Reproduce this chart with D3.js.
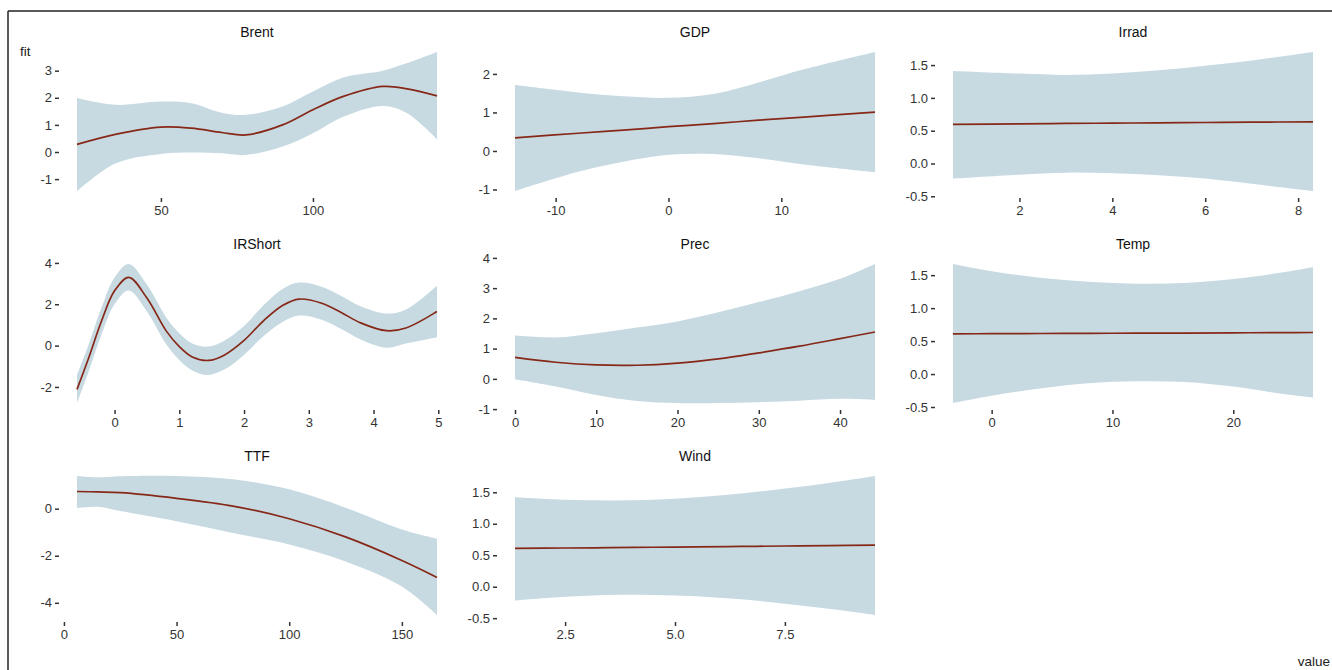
<!DOCTYPE html>
<html>
<head>
<meta charset="utf-8">
<script src="https://cdn.jsdelivr.net/npm/d3@7"></script>
<style>
  html, body { margin: 0; padding: 0; background: #fff; overflow: hidden; }
  svg { display: block; font-family: "Liberation Sans", Arial, sans-serif; }
  .tick text { fill: #333; font-size: 13px; }
  .tick line { stroke: #333; stroke-width: 1.5; }
</style>
</head>
<body>
<div id="chart"></div>
<script>
// Smooth term estimates (fit with lower/upper confidence band) per predictor

const panelNames = ['Brent', 'GDP', 'Irrad', 'IRShort', 'Prec', 'Temp', 'TTF', 'Wind'];

const brentX     = [22.4, 35, 50, 60, 70, 78, 90, 100, 110, 123, 131, 140.8];
const brentFit   = [0.28, 0.65, 0.92, 0.88, 0.72, 0.63, 1.0, 1.56, 2.05, 2.42, 2.33, 2.07];
const brentLower = [-1.44, -0.42, -0.07, -0.02, -0.05, -0.11, 0.2, 0.69, 1.3, 1.7, 1.43, 0.47];
const brentUpper = [1.99, 1.74, 1.86, 1.8, 1.45, 1.37, 1.68, 2.23, 2.75, 3.0, 3.28, 3.69];

const gdpX     = [-13.6, -8, -4, 0, 4, 8, 12, 18.3];
const gdpFit   = [0.34, 0.46, 0.54, 0.63, 0.71, 0.8, 0.88, 1.01];
const gdpLower = [-1.04, -0.54, -0.28, -0.1, -0.08, -0.19, -0.35, -0.55];
const gdpUpper = [1.71, 1.52, 1.42, 1.38, 1.48, 1.78, 2.12, 2.57];

const irradX     = [0.57, 2, 3, 4, 5, 6, 7, 8.32];
const irradFit   = [0.595, 0.605, 0.61, 0.615, 0.62, 0.625, 0.63, 0.635];
const irradLower = [-0.23, -0.17, -0.14, -0.15, -0.18, -0.23, -0.31, -0.42];
const irradUpper = [1.41, 1.37, 1.35, 1.37, 1.42, 1.49, 1.57, 1.7];

const irshortX     = [-0.58, -0.4, -0.2, 0, 0.22, 0.5, 0.8, 1.0, 1.2, 1.45, 1.7, 2.0, 2.3, 2.6, 2.85, 3.2, 3.5, 3.8, 4.2, 4.5, 4.98];
const irshortFit   = [-2.12, -0.6, 1.2, 2.65, 3.3, 2.3, 0.7, -0.05, -0.55, -0.72, -0.45, 0.25, 1.2, 1.95, 2.25, 2.05, 1.6, 1.1, 0.72, 0.85, 1.65];
const irshortLower = [-2.78, -1.25, 0.55, 2.0, 2.67, 1.65, 0.05, -0.7, -1.2, -1.42, -1.15, -0.45, 0.45, 1.15, 1.45, 1.25, 0.8, 0.3, -0.1, 0.1, 0.4];
const irshortUpper = [-1.42, 0.05, 1.85, 3.3, 3.95, 2.95, 1.35, 0.6, 0.1, -0.05, 0.25, 0.95, 1.95, 2.75, 3.05, 2.85, 2.4, 1.9, 1.55, 1.75, 2.9];

const precX     = [0, 5, 10, 15, 20, 25, 30, 35, 40, 44.3];
const precFit   = [0.71, 0.55, 0.46, 0.45, 0.52, 0.66, 0.86, 1.08, 1.33, 1.55];
const precLower = [-0.01, -0.25, -0.53, -0.73, -0.8, -0.8, -0.77, -0.72, -0.66, -0.7];
const precUpper = [1.43, 1.37, 1.51, 1.7, 1.9, 2.2, 2.54, 2.9, 3.31, 3.8];

const tempX     = [-3.2, 0, 4, 8, 12, 16, 20, 24, 26.6];
const tempFit   = [0.61, 0.612, 0.615, 0.617, 0.62, 0.622, 0.625, 0.628, 0.63];
const tempLower = [-0.44, -0.33, -0.22, -0.14, -0.11, -0.12, -0.19, -0.3, -0.36];
const tempUpper = [1.67, 1.56, 1.46, 1.4, 1.37, 1.38, 1.44, 1.54, 1.62];

const ttfX     = [5.8, 15, 25, 50, 75, 100, 125, 150, 165.6];
const ttfFit   = [0.73, 0.71, 0.68, 0.44, 0.11, -0.43, -1.2, -2.2, -2.92];
const ttfLower = [0.03, 0.08, -0.1, -0.53, -1.03, -1.52, -2.24, -3.31, -4.52];
const ttfUpper = [1.39, 1.33, 1.38, 1.39, 1.25, 0.82, 0.04, -0.88, -1.27];

const windX     = [1.36, 2.5, 3.5, 4.5, 5.5, 6.5, 7.5, 8.5, 9.55];
const windFit   = [0.61, 0.615, 0.62, 0.627, 0.633, 0.64, 0.647, 0.653, 0.66];
const windLower = [-0.22, -0.16, -0.13, -0.13, -0.15, -0.2, -0.27, -0.35, -0.45];
const windUpper = [1.42, 1.38, 1.37, 1.38, 1.42, 1.48, 1.56, 1.65, 1.76];

// Axis ticks
const xTicks = [[50, 100], [-10, 0, 10], [2, 4, 6, 8], [0, 1, 2, 3, 4, 5], [0, 10, 20, 30, 40], [0, 10, 20], [0, 50, 100, 150], [2.5, 5, 7.5]];
const yTicks = [[-1, 0, 1, 2, 3], [-1, 0, 1, 2], [-0.5, 0, 0.5, 1, 1.5], [-2, 0, 2, 4], [-1, 0, 1, 2, 3, 4], [-0.5, 0, 0.5, 1, 1.5], [-4, -2, 0], [-0.5, 0, 0.5, 1, 1.5]];
const xDecimals = [0, 0, 0, 0, 0, 0, 0, 1];
const yDecimals = [0, 0, 1, 0, 0, 1, 0, 1];

const seriesX = [brentX, gdpX, irradX, irshortX, precX, tempX, ttfX, windX];
const seriesFit = [brentFit, gdpFit, irradFit, irshortFit, precFit, tempFit, ttfFit, windFit];
const seriesLower = [brentLower, gdpLower, irradLower, irshortLower, precLower, tempLower, ttfLower, windLower];
const seriesUpper = [brentUpper, gdpUpper, irradUpper, irshortUpper, precUpper, tempUpper, ttfUpper, windUpper];

const W = 1332, H = 670;
const COL_LEFT = [59, 497, 935];
const ROW_TOP = [45, 257, 469];
const PANEL_W = 396, PANEL_H = 153;
const RIBBON = '#c7dae2';
const LINE = '#862817';

const locale = d3.formatLocale({ decimal: '.', thousands: ',', grouping: [3], currency: ['', ''], minus: '-' });
const curve = d3.curveCatmullRom.alpha(0.5);

const svg = d3.select('#chart').append('svg')
  .attr('width', W)
  .attr('height', H);

// frame edges (top and left only)
svg.append('line').attr('x1', 8).attr('x2', W).attr('y1', 11).attr('y2', 11)
  .attr('stroke', '#222').attr('stroke-width', 1.5);
svg.append('line').attr('x1', 8).attr('x2', 8).attr('y1', 11).attr('y2', H)
  .attr('stroke', '#222').attr('stroke-width', 1.5);

function expand(ext) {
  const pad = (ext[1] - ext[0]) * 0.05;
  return [ext[0] - pad, ext[1] + pad];
}

panelNames.forEach((name, i) => {
  const col = i % 3, row = Math.floor(i / 3);
  const left = COL_LEFT[col], top = ROW_TOP[row];
  const xs = seriesX[i];
  const data = xs.map((x, j) => ({ x, fit: seriesFit[i][j], lo: seriesLower[i][j], hi: seriesUpper[i][j] }));

  const x = d3.scaleLinear()
    .domain(expand(d3.extent(xs)))
    .range([0, PANEL_W]);
  const y = d3.scaleLinear()
    .domain(expand([d3.min(data, d => d.lo), d3.max(data, d => d.hi)]))
    .range([PANEL_H, 0]);

  const g = svg.append('g').attr('transform', `translate(${left},${top})`);

  g.append('path')
    .datum(data)
    .attr('fill', RIBBON)
    .attr('d', d3.area().curve(curve)
      .x(d => x(d.x)).y0(d => y(d.lo)).y1(d => y(d.hi)));

  g.append('path')
    .datum(data)
    .attr('fill', 'none')
    .attr('stroke', LINE)
    .attr('stroke-width', 1.7)
    .attr('d', d3.line().curve(curve)
      .x(d => x(d.x)).y(d => y(d.fit)));

  const yAxis = g.append('g')
    .call(d3.axisLeft(y).tickValues(yTicks[i]).tickSize(4).tickPadding(3)
      .tickFormat(locale.format(`.${yDecimals[i]}f`)));
  yAxis.select('.domain').remove();

  const xAxis = g.append('g')
    .attr('transform', `translate(0,${PANEL_H})`)
    .call(d3.axisBottom(x).tickValues(xTicks[i]).tickSize(4).tickPadding(4)
      .tickFormat(locale.format(`.${xDecimals[i]}f`)));
  xAxis.select('.domain').remove();

  svg.append('text')
    .attr('x', left + PANEL_W / 2)
    .attr('y', top - 8)
    .attr('text-anchor', 'middle')
    .attr('font-size', 14)
    .attr('fill', '#111')
    .text(name);
});

svg.append('text')
  .attr('x', 20).attr('y', 56)
  .attr('font-size', 13.5).attr('fill', '#222')
  .text('fit');

svg.append('text')
  .attr('x', 1330).attr('y', 666)
  .attr('text-anchor', 'end')
  .attr('font-size', 13.5).attr('fill', '#222')
  .text('value');
</script>
</body>
</html>
